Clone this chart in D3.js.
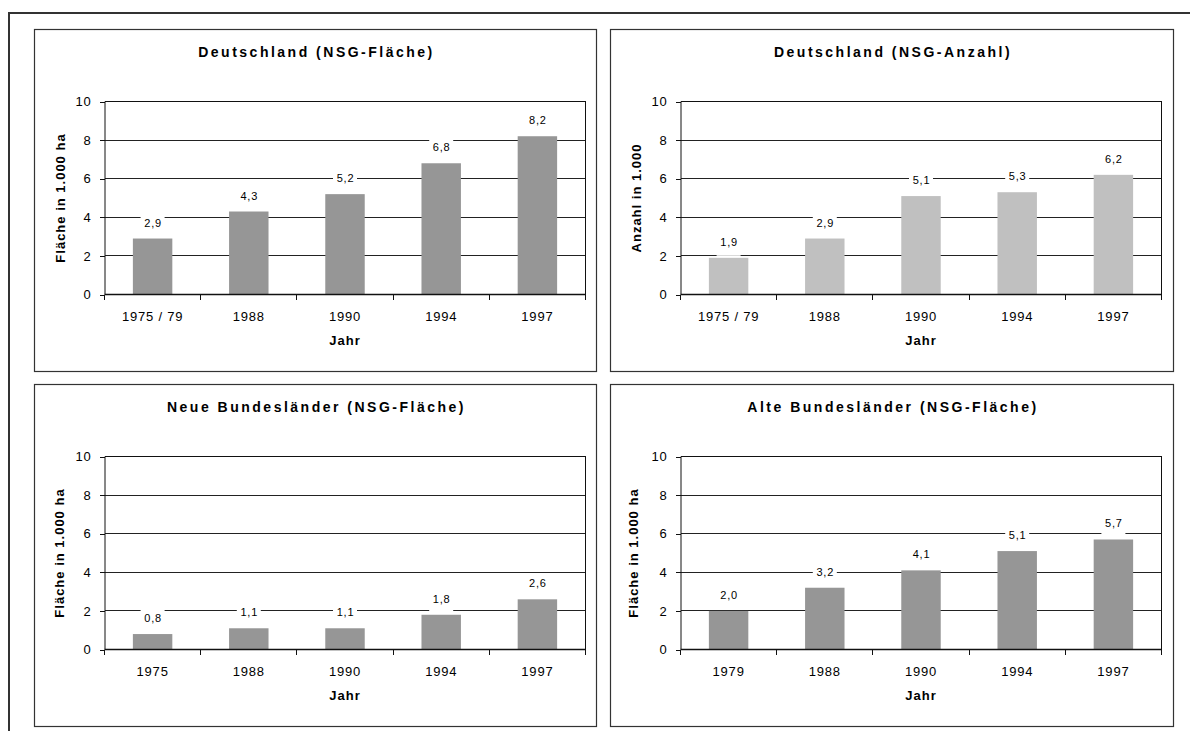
<!DOCTYPE html>
<html>
<head>
<meta charset="utf-8">
<script src="https://cdn.jsdelivr.net/npm/d3@7"></script>
<style>
  body { margin: 0; background: #fff; }
  svg { display: block; }
</style>
</head>
<body>
<svg id="chart" width="1190" height="731"></svg>
<script>
// Naturschutzgebiete (NSG) in Deutschland – Fläche und Anzahl
const catsGesamt = ["1975 / 79", "1988", "1990", "1994", "1997"];
const flaecheGesamt = [2.9, 4.3, 5.2, 6.8, 8.2];
const anzahlGesamt = [1.9, 2.9, 5.1, 5.3, 6.2];

const catsNeu = ["1975", "1988", "1990", "1994", "1997"];
const flaecheNeu = [0.8, 1.1, 1.1, 1.8, 2.6];

const catsAlt = ["1979", "1988", "1990", "1994", "1997"];
const flaecheAlt = [2.0, 3.2, 4.1, 5.1, 5.7];

const yTicks = [0, 2, 4, 6, 8, 10];
const xTitle = "Jahr";

const FONT = "'Liberation Sans', Arial, Helvetica, sans-serif";

const panels = [
  { title: "Deutschland (NSG-Fläche)", yLabel: "Fläche in 1.000 ha", cats: catsGesamt, values: flaecheGesamt,
    fill: "#969696", x: 34.5, y: 29.5, w: 562, yTitleOff: 30 },
  { title: "Deutschland (NSG-Anzahl)", yLabel: "Anzahl in 1.000", cats: catsGesamt, values: anzahlGesamt,
    fill: "#c0c0c0", x: 610.5, y: 29.5, w: 563, yTitleOff: 30 },
  { title: "Neue Bundesländer (NSG-Fläche)", yLabel: "Fläche in 1.000 ha", cats: catsNeu, values: flaecheNeu,
    fill: "#969696", x: 34.5, y: 384.5, w: 562, yTitleOff: 29 },
  { title: "Alte Bundesländer (NSG-Fläche)", yLabel: "Fläche in 1.000 ha", cats: catsAlt, values: flaecheAlt,
    fill: "#969696", x: 610.5, y: 384.5, w: 563, yTitleOff: 27 }
];

const svg = d3.select("#chart");
svg.append("rect").attr("width", 1190).attr("height", 731).attr("fill", "#fff");

// outer page frame (runs off the right and bottom edge)
svg.append("path")
  .attr("d", "M9,731 V13 H1190")
  .attr("fill", "none")
  .attr("stroke", "#333")
  .attr("stroke-width", 2);

const fmt = v => d3.format(".1f")(v).replace(".", ",");
const crisp = v => Math.round(v - 0.5) + 0.5;

panels.forEach(p => {
  const g = svg.append("g");
  const H = 342;

  g.append("rect")
    .attr("x", p.x).attr("y", p.y)
    .attr("width", p.w).attr("height", H)
    .attr("fill", "#fff")
    .attr("stroke", "#333")
    .attr("stroke-width", 1.2);

  // title
  g.append("text")
    .attr("x", p.x + p.w / 2 + 1)
    .attr("y", p.y + 27)
    .attr("text-anchor", "middle")
    .style("font-family", FONT)
    .style("font-size", "14px")
    .style("font-weight", "bold")
    .style("letter-spacing", "2.5px")
    .text(p.title);

  const left = p.x + 70, right = p.x + 551;
  const top = p.y + 72, bottom = p.y + 265;

  const x = d3.scaleBand()
    .domain(p.cats)
    .range([left, right])
    .paddingInner(0.59)
    .paddingOuter(0.295);

  const y = d3.scaleLinear().domain([0, 10]).range([bottom, top]);

  // horizontal gridlines
  g.append("g").selectAll("line")
    .data(yTicks.filter(t => t > 0 && t < 10))
    .join("line")
    .attr("x1", left).attr("x2", right)
    .attr("y1", d => crisp(y(d))).attr("y2", d => crisp(y(d)))
    .attr("stroke", "#222")
    .attr("stroke-width", 1)
    .attr("shape-rendering", "crispEdges");

  // plot frame: top and right edges
  g.append("path")
    .attr("d", `M${left},${crisp(top)} H${right} V${bottom}`)
    .attr("fill", "none")
    .attr("stroke", "#111")
    .attr("stroke-width", 1)
    .attr("shape-rendering", "crispEdges");

  // bars
  g.append("g").selectAll("rect")
    .data(p.values)
    .join("rect")
    .attr("x", (d, i) => x(p.cats[i]))
    .attr("width", x.bandwidth())
    .attr("y", d => y(d))
    .attr("height", d => bottom - y(d))
    .attr("fill", p.fill);

  // value labels on a white box
  const lab = g.append("g").selectAll("g")
    .data(p.values)
    .join("g");
  lab.append("rect")
    .attr("x", (d, i) => x(p.cats[i]) + x.bandwidth() / 2 - 12)
    .attr("width", 24)
    .attr("y", d => y(d) - 16 - 9)
    .attr("height", 23)
    .attr("fill", "#fff");
  lab.append("text")
    .attr("x", (d, i) => x(p.cats[i]) + x.bandwidth() / 2 + 0.5)
    .attr("y", d => y(d) - 16 + 4)
    .attr("text-anchor", "middle")
    .style("font-family", FONT)
    .style("font-size", "11px")
    .style("letter-spacing", "0.8px")
    .text(d => fmt(d));

  // y axis
  const yAxis = g.append("g")
    .attr("transform", `translate(${left},0)`)
    .call(d3.axisLeft(y).tickValues(yTicks).tickSize(5).tickPadding(8).tickFormat(d3.format("d")));
  yAxis.select(".domain").attr("stroke", "#111").attr("d", `M0.5,${top}V${bottom}`);
  yAxis.selectAll(".tick line").attr("stroke", "#111").attr("shape-rendering", "crispEdges");
  yAxis.selectAll(".tick text")
    .attr("fill", "#000")
    .style("font-family", FONT)
    .style("font-size", "13px")
    .style("letter-spacing", "0.8px");

  // x axis: category labels centred in bands, ticks on band boundaries
  const xAxis = g.append("g")
    .attr("transform", `translate(0,${bottom})`)
    .call(d3.axisBottom(x).tickSize(0).tickPadding(17));
  xAxis.select(".domain").remove();
  xAxis.selectAll(".tick text")
    .attr("fill", "#000")
    .style("font-family", FONT)
    .style("font-size", "13px")
    .style("letter-spacing", "0.8px");

  g.append("line")
    .attr("x1", left).attr("x2", right)
    .attr("y1", crisp(bottom)).attr("y2", crisp(bottom))
    .attr("stroke", "#111")
    .attr("stroke-width", 1.3);

  const bounds = d3.range(p.cats.length + 1).map(i => left + i * x.step());
  g.append("g").selectAll("line")
    .data(bounds)
    .join("line")
    .attr("x1", d => crisp(d)).attr("x2", d => crisp(d))
    .attr("y1", bottom).attr("y2", bottom + 5)
    .attr("stroke", "#111")
    .attr("shape-rendering", "crispEdges");

  // axis titles
  g.append("text")
    .attr("x", (left + right) / 2)
    .attr("y", p.y + 315.5)
    .attr("text-anchor", "middle")
    .style("font-family", FONT)
    .style("font-size", "13px")
    .style("font-weight", "bold")
    .style("letter-spacing", "1px")
    .text(xTitle);

  g.append("text")
    .attr("transform", `translate(${p.x + p.yTitleOff},${(top + bottom) / 2}) rotate(-90)`)
    .attr("text-anchor", "middle")
    .style("font-family", FONT)
    .style("font-size", "13px")
    .style("font-weight", "bold")
    .style("letter-spacing", "1px")
    .text(p.yLabel);
});
</script>
</body>
</html>
